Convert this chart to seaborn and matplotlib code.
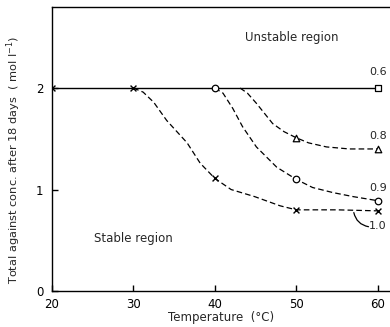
import matplotlib
matplotlib.use("Agg")
import matplotlib.pyplot as plt
import seaborn as sns
import pandas as pd

# measured points (Temperature °C, conc mol/l)
temps_10 = [20, 30, 40, 50, 60]
conc_10 = [2.0, 2.0, 1.11, 0.80, 0.79]
temps_09 = [40, 50, 60]
conc_09 = [2.0, 1.10, 0.89]
temps_08 = [50, 60]
conc_08 = [1.51, 1.40]
temps_06 = [20, 60]
conc_06 = [2.0, 2.0]

# dashed hand-drawn curve traces
curve_10_t = [30, 31.2, 32.5, 34.1, 36.6, 38.2, 40, 42, 44.9, 48, 50, 55, 60]
curve_10_c = [2.0, 1.96, 1.86, 1.68, 1.46, 1.26, 1.11, 1.0, 0.93, 0.84, 0.80, 0.80, 0.79]
curve_09_t = [40, 41, 42.2, 43.4, 45.1, 47.6, 50, 52, 54.5, 57, 60]
curve_09_c = [2.0, 1.95, 1.80, 1.62, 1.42, 1.22, 1.10, 1.02, 0.97, 0.93, 0.89]
curve_08_t = [43.1, 44, 45.1, 47.1, 48.5, 50, 51.5, 53.7, 56.5, 60]
curve_08_c = [2.0, 1.95, 1.85, 1.65, 1.57, 1.51, 1.46, 1.42, 1.40, 1.40]

labels = ["0.6", "0.8", "0.9", "1.0"]
label_y = [2.16, 1.53, 1.02, 0.64]

sns.set_style("ticks")
plt.rcParams['font.family'] = ['DejaVu Sans']

fig = plt.figure(figsize=(3.9, 3.27), dpi=100)
ax = fig.add_axes([0.133, 0.110, 0.867, 0.869])

# solid line for 0.6
sns.lineplot(x=temps_06, y=conc_06, ax=ax, color="black", lw=1.0, sort=False)

dash = (4.5, 2.5)
for t, c in [(curve_10_t, curve_10_c), (curve_09_t, curve_09_c), (curve_08_t, curve_08_c)]:
    sns.lineplot(x=t, y=c, ax=ax, color="black", lw=0.9, sort=False,
                 linestyle=(0, dash))

# markers
sns.scatterplot(x=temps_10, y=conc_10, ax=ax, marker="x", color="black", s=18, linewidth=1.0, zorder=5)
sns.scatterplot(x=temps_09, y=conc_09, ax=ax, marker="o", facecolor="white", edgecolor="black", s=22, linewidth=0.9, zorder=5)
sns.scatterplot(x=temps_08, y=conc_08, ax=ax, marker="^", facecolor="white", edgecolor="black", s=22, linewidth=0.9, zorder=5)
sns.scatterplot(x=[temps_06[-1]], y=[conc_06[-1]], ax=ax, marker="s", facecolor="white", edgecolor="black", s=22, linewidth=0.9, zorder=5)

ax.set_xlim(20, 61.5)
ax.set_ylim(0, 2.8)
ax.set_xticks([20, 30, 40, 50, 60])
ax.set_yticks([0, 1, 2])
ax.tick_params(direction="in", length=4, width=1, labelsize=8.5, colors="black")
ax.tick_params(axis="x", pad=5)
ax.tick_params(axis="y", pad=6)
for s in ["left", "bottom", "top"]:
    ax.spines[s].set_linewidth(1.0)
    ax.spines[s].set_color("black")
ax.spines["right"].set_visible(False)

ax.set_xlabel("Temperature  (°C)", fontsize=8.5, labelpad=0)
ax.set_ylabel("Total against conc. after 18 days  ( mol l$^{-1}$)", fontsize=8.2)
ax.yaxis.set_label_coords(-0.085, 0.46)

# series labels
for lab, yy in zip(labels, label_y):
    ax.text(60, yy, lab, fontsize=8, ha="center", va="center")
ax.annotate("", xy=(57.0, 0.80), xytext=(59.2, 0.63),
            arrowprops=dict(arrowstyle="-", color="black", lw=0.9,
                            connectionstyle="arc3,rad=-0.4"))

ax.text(49.5, 2.5, "Unstable region", fontsize=8.5, ha="center", va="center")
ax.text(30, 0.52, "Stable region", fontsize=8.5, ha="center", va="center")

fig.savefig("out.png", dpi=100)
